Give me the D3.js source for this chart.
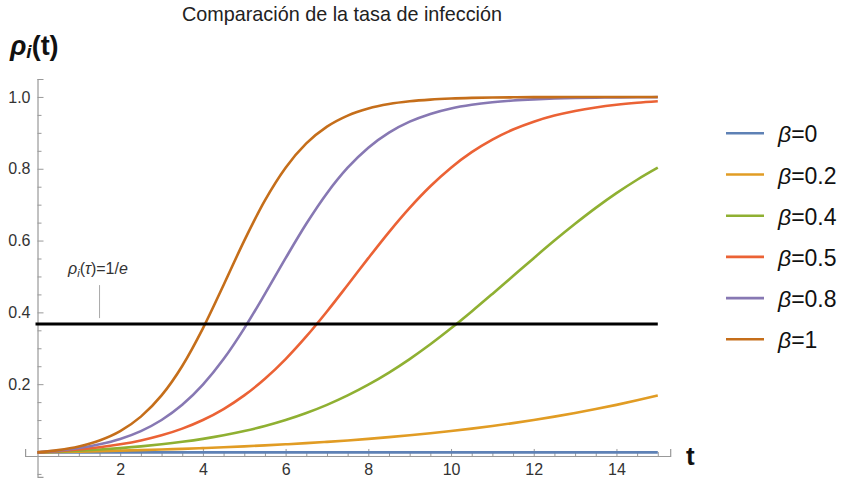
<!DOCTYPE html>
<html><head><meta charset="utf-8">
<script src="https://cdn.jsdelivr.net/npm/d3@7"></script>
<style>body{margin:0;background:#fff}svg{display:block}text{font-family:"Liberation Sans",Arial,sans-serif}</style>
</head><body>
<svg id="chart" width="841" height="479"></svg>
<script>
// ---- data ----
const title = "Comparación de la tasa de infección";
const tValues = d3.range(0, 15.001, 0.5);
const seriesLabels = ["0", "0.2", "0.4", "0.5", "0.8", "1"];
const seriesColors = ["#5E81B5", "#E19C24", "#8FB032", "#EB6235", "#8778B3", "#C56E1A"];
const rhoBeta0 = [0.01,0.01,0.01,0.01,0.01,0.01,0.01,0.01,0.01,0.01,0.01,0.01,0.01,0.01,0.01,0.01,0.01,0.01,0.01,0.01,0.01,0.01,0.01,0.01,0.01,0.01,0.01,0.01,0.01,0.01,0.01];
const rhoBeta02 = [0.0100,0.0110,0.0122,0.0135,0.0149,0.0164,0.0181,0.0199,0.0220,0.0242,0.0267,0.0295,0.0325,0.0357,0.0394,0.0433,0.0476,0.0524,0.0576,0.0633,0.0694,0.0762,0.0835,0.0915,0.1002,0.1096,0.1197,0.1307,0.1424,0.1551,0.1687];
const rhoBeta04 = [0.0100,0.0122,0.0149,0.0181,0.0220,0.0267,0.0325,0.0394,0.0476,0.0576,0.0694,0.0835,0.1002,0.1197,0.1424,0.1687,0.1986,0.2323,0.2699,0.3110,0.3555,0.4025,0.4514,0.5012,0.5510,0.5999,0.6467,0.6910,0.7320,0.7694,0.8030];
const rhoBeta05 = [0.0100,0.0135,0.0181,0.0242,0.0325,0.0433,0.0576,0.0762,0.1002,0.1307,0.1687,0.2150,0.2699,0.3329,0.4025,0.4762,0.5510,0.6236,0.6910,0.7512,0.8030,0.8462,0.8813,0.9093,0.9311,0.9481,0.9610,0.9708,0.9782,0.9837,0.9879];
const rhoBeta08 = [0.0100,0.0149,0.0220,0.0325,0.0476,0.0694,0.1002,0.1424,0.1986,0.2699,0.3555,0.4514,0.5510,0.6467,0.7320,0.8030,0.8587,0.9007,0.9311,0.9528,0.9679,0.9782,0.9853,0.9901,0.9933,0.9955,0.9970,0.9980,0.9986,0.9991,0.9994];
const rhoBeta1 = [0.0100,0.0164,0.0267,0.0433,0.0694,0.1096,0.1687,0.2507,0.3555,0.4762,0.5999,0.7119,0.8030,0.8705,0.9172,0.9481,0.9679,0.9803,0.9879,0.9926,0.9955,0.9973,0.9984,0.9990,0.9994,0.9996,0.9998,0.9999,0.9999,1.0000,1.0000];
const seriesValues = [rhoBeta0, rhoBeta02, rhoBeta04, rhoBeta05, rhoBeta08, rhoBeta1];
const xMajorTicks = [2, 4, 6, 8, 10, 12, 14];
const xMinorTicks = d3.range(0.5, 15.001, 0.5);
const yMajorTicks = [0.2, 0.4, 0.6, 0.8, 1.0];
const yMinorTicks = d3.range(-0.05, 1.0501, 0.05);
const threshold = 0.3679;        // 1/e
const thresholdSpan = [0, 15];
const annotT = 1.5, annotRange = [0.384, 0.476];

// ---- scales ----
const svg = d3.select("#chart");
const x = d3.scaleLinear().domain([-0.3, 15.3]).range([25.1, 670.2]);
const y = d3.scaleLinear().domain([-0.058, 1.05]).range([476.8, 79]);

// title
svg.append("text").attr("x", 182).attr("y", 21).attr("font-size", 19.8).attr("fill", "#222").text(title);

// axes
const gx = svg.append("g").attr("transform", `translate(0,${y(0)})`);
gx.call(d3.axisBottom(x).tickValues(xMinorTicks.filter(v => !xMajorTicks.includes(v))).tickSize(-4).tickFormat(""));
gx.call(g => g.select(".domain").remove());
const gx2 = svg.append("g").attr("transform", `translate(0,${y(0)})`)
  .call(d3.axisBottom(x).tickValues(xMajorTicks).tickSize(-7).tickPadding(8).tickFormat(d3.format("d")));
[gx, gx2].forEach(g => {
  g.selectAll("line").attr("stroke", "#999").attr("stroke-width", 1);
  g.selectAll("text").attr("font-size", 16).attr("fill", "#333").attr("font-family", "Liberation Sans, Arial, sans-serif");
});
gx2.select(".domain").attr("stroke", "#999").attr("stroke-width", 1.2);

const gy = svg.append("g").attr("transform", `translate(${x(0)},0)`);
gy.call(d3.axisLeft(y).tickValues(yMinorTicks.filter(v => !yMajorTicks.some(m => Math.abs(m - v) < 1e-6) && Math.abs(v) > 1e-6)).tickSize(-4).tickFormat(""));
gy.call(g => g.select(".domain").remove());
const gy2 = svg.append("g").attr("transform", `translate(${x(0)},0)`)
  .call(d3.axisLeft(y).tickValues(yMajorTicks).tickSize(-6).tickPadding(7).tickFormat(d3.format(".1f")));
[gy, gy2].forEach(g => {
  g.selectAll("line").attr("stroke", "#999").attr("stroke-width", 1);
  g.selectAll("text").attr("font-size", 16).attr("fill", "#333").attr("font-family", "Liberation Sans, Arial, sans-serif");
});
gy2.select(".domain").attr("stroke", "#999").attr("stroke-width", 1.2);

// axis labels
const yl = svg.append("text").attr("x", 10).attr("y", 55).attr("font-size", 27).attr("font-weight", "bold").attr("fill", "#111");
yl.append("tspan").attr("font-style", "italic").text("ρ");
yl.append("tspan").attr("font-style", "italic").attr("font-size", 19).attr("dy", 3).text("i");
yl.append("tspan").attr("dy", -3).text("(t)");
svg.append("text").attr("x", 686).attr("y", 465).attr("font-size", 26).attr("font-weight", "bold").attr("fill", "#111").text("t");

// curves
const line = d3.line().x((d, i) => x(tValues[i])).y(d => y(d)).curve(d3.curveMonotoneX);
seriesValues.forEach((vals, i) => {
  svg.append("path").datum(vals).attr("d", line).attr("fill", "none")
    .attr("stroke", seriesColors[i]).attr("stroke-width", 2.6).attr("stroke-linecap", "butt");
});

// threshold line
svg.append("line").attr("x1", x(thresholdSpan[0]) - 2).attr("x2", x(thresholdSpan[1]))
  .attr("y1", y(threshold)).attr("y2", y(threshold)).attr("stroke", "#000").attr("stroke-width", 3);

// annotation
svg.append("line").attr("x1", x(annotT)).attr("x2", x(annotT)).attr("y1", y(annotRange[0])).attr("y2", y(annotRange[1]))
  .attr("stroke", "#aaa").attr("stroke-width", 1);
const an = svg.append("text").attr("x", 68).attr("y", 274).attr("font-size", 16).attr("fill", "#333");
an.append("tspan").attr("font-style", "italic").text("ρ");
an.append("tspan").attr("font-style", "italic").attr("font-size", 11).attr("dy", 3).text("i");
an.append("tspan").attr("dy", -3).text("(");
an.append("tspan").attr("font-style", "italic").text("τ");
an.append("tspan").text(")=1/");
an.append("tspan").attr("font-style", "italic").text("e");

// legend
const legendY = d3.scalePoint().domain(seriesLabels).range([133.3, 339.3]);
const lg = svg.append("g");
seriesLabels.forEach((lab, i) => {
  const yy = legendY(lab);
  lg.append("line").attr("x1", 726).attr("x2", 764).attr("y1", yy).attr("y2", yy)
    .attr("stroke", seriesColors[i]).attr("stroke-width", 2.6);
  const t = lg.append("text").attr("x", 778).attr("y", yy + 9).attr("font-size", 23).attr("fill", "#111");
  t.append("tspan").attr("font-style", "italic").text("β");
  t.append("tspan").text("=" + lab);
});
</script>
</body></html>
